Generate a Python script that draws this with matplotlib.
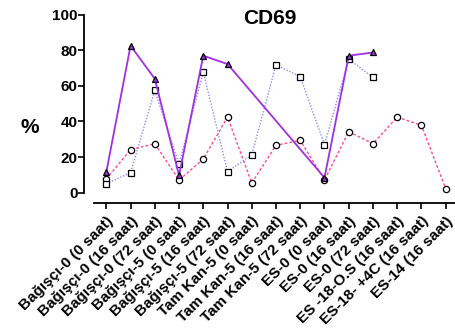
import numpy as np
import matplotlib
matplotlib.use("Agg")
import matplotlib.pyplot as plt

plt.rcParams['font.family'] = ['Liberation Sans', 'DejaVu Sans']
plt.rcParams['font.weight'] = 'bold'

labels = ["Bağışçı-0 (0 saat)", "Bağışçı-0 (16 saat)", "Bağışçı-0 (72 saat)",
          "Bağışçı-5 (0 saat)", "Bağışçı-5 (16 saat)", "Bağışçı-5 (72 saat)",
          "Tam Kan-5 (0 saat)", "Tam Kan-5 (16 saat)", "Tam Kan-5 (72 saat)",
          "ES-0 (0 saat)", "ES-0 (16 saat)", "ES-0 (72 saat)",
          "ES -18-O.S (16 saat)", "ES-18- +4C (16 saat)", "ES-14 (16 saat)"]

# three donors / series (None = no point)
triangles = [11.6, 82.6, 64.0, 9.7, 77.0, 72.3, None, None, None, 8.4, 77.0, 78.8, None, None, None]
squares = [5.0, 11.2, 57.5, 16.0, 67.8, 11.8, 21.2, 71.9, 65.2, 27.0, 75.0, 64.8, None, None, None]
circles = [7.7, 24.2, 27.5, 7.1, 18.9, 42.5, 5.4, 26.6, 29.4, 7.1, 34.3, 27.5, 42.5, 37.8, 2.2]


def valid(vals):
    xs = [i for i, v in enumerate(vals) if v is not None]
    ys = [v for v in vals if v is not None]
    return xs, ys


fig = plt.figure(figsize=(4.56, 3.36), dpi=100)
ax = fig.add_axes([0.185, 0.396, 0.819, 0.560])

x, y = valid(circles)
ax.plot(x, y, color='#ff4a92', lw=1.0, ls=(0, (2, 1.5)), marker='o', ms=4.5,
        mfc='white', mec='black', mew=0.9, zorder=3)
x, y = valid(squares)
ax.plot(x, y, color='#8c8cff', lw=1.0, ls=(0, (1, 1.2)), marker='s', ms=5,
        mfc='white', mec='black', mew=0.9, zorder=3)
x, y = valid(triangles)
ax.plot(x, y, color='#a030e0', lw=1.3, ls='-', marker='^', ms=5,
        mfc='#a030e0', mec='black', mew=0.9, zorder=4)

ax.set_xlim(-0.906, 14.5)
ax.set_ylim(-5.8, 100)
ax.spines['top'].set_visible(False)
ax.spines['right'].set_visible(False)
ax.spines['left'].set_bounds(0, 100)
ax.spines['bottom'].set_bounds(-0.5, 14.5)
ax.spines['left'].set_linewidth(1.3)
ax.spines['bottom'].set_linewidth(1.3)

ax.set_yticks([0, 20, 40, 60, 80, 100])
ax.tick_params(axis='y', length=4, width=1.2, labelsize=11, pad=1)
ax.set_xticks(range(len(labels)))
ax.set_xticklabels(labels, rotation=45, ha='right', va='top',
                   rotation_mode='anchor', fontsize=11, fontweight='bold')
ax.tick_params(axis='x', length=4, width=1.2, pad=4)
for t in ax.get_yticklabels():
    t.set_fontweight('bold')

fig.text(0.592, 0.946, "CD69", fontsize=15, fontweight='bold', ha='center', va='center')
fig.text(0.066, 0.62, "%", fontsize=15, fontweight='bold', ha='center', va='center')

fig.savefig("out.png", dpi=100)
